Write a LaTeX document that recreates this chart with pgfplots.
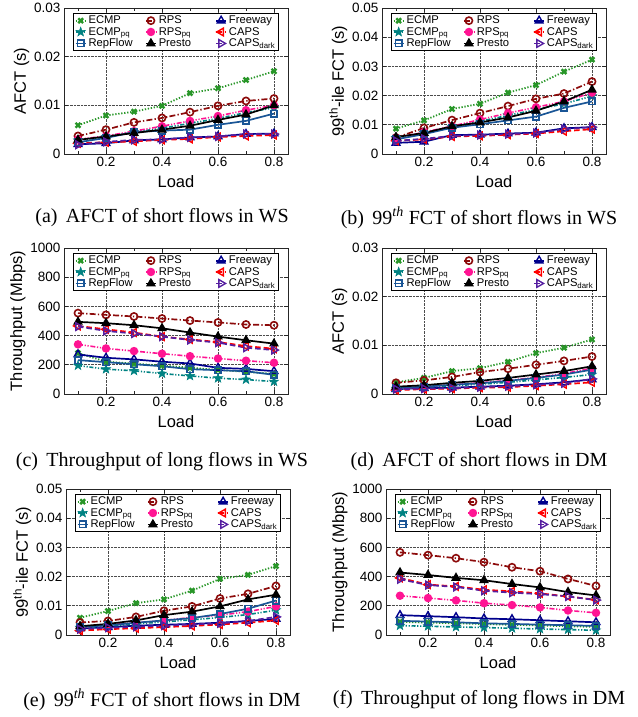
\documentclass[border=0pt]{standalone}
\usepackage{fontspec}
\setmainfont{Liberation Sans}
\newfontfamily\capfont{Liberation Serif}
\usepackage{pgfplots}
\pgfplotsset{compat=1.18}
\definecolor{cECMP}{RGB}{40,150,40}
\definecolor{cECMPpq}{RGB}{0,130,130}
\definecolor{cRep}{RGB}{25,85,150}
\definecolor{cRPS}{RGB}{140,10,10}
\definecolor{cRPSpq}{RGB}{255,20,147}
\definecolor{cFree}{RGB}{0,0,140}
\definecolor{cCAPS}{RGB}{255,0,0}
\definecolor{cDark}{RGB}{85,30,160}
\pgfdeclareplotmark{fstar}{%
 \pgfpathmoveto{\pgfpointpolar{90}{1.35\pgfplotmarksize}}%
 \pgfpathlineto{\pgfpointpolar{126}{0.55\pgfplotmarksize}}%
 \pgfpathlineto{\pgfpointpolar{162}{1.35\pgfplotmarksize}}%
 \pgfpathlineto{\pgfpointpolar{198}{0.55\pgfplotmarksize}}%
 \pgfpathlineto{\pgfpointpolar{234}{1.35\pgfplotmarksize}}%
 \pgfpathlineto{\pgfpointpolar{270}{0.55\pgfplotmarksize}}%
 \pgfpathlineto{\pgfpointpolar{306}{1.35\pgfplotmarksize}}%
 \pgfpathlineto{\pgfpointpolar{342}{0.55\pgfplotmarksize}}%
 \pgfpathlineto{\pgfpointpolar{18}{1.35\pgfplotmarksize}}%
 \pgfpathlineto{\pgfpointpolar{54}{0.55\pgfplotmarksize}}%
 \pgfpathclose\pgfusepathqfillstroke}
\pgfplotsset{
 sE/.style={cECMP, dash pattern=on 1.3pt off 1.7pt, line width=1.8pt, mark=x, mark size=3.4pt, mark options={solid, line width=2.4pt}},
 sEpq/.style={cECMPpq, dash pattern=on 4pt off 1.7pt on 1.2pt off 1.7pt on 1.2pt off 1.7pt, line width=1.6pt, mark=fstar, mark size=3.6pt, mark options={solid, fill=cECMPpq, line width=0.5pt}},
 sRep/.style={cRep, solid, line width=1.7pt, mark=square, mark size=3.2pt, mark options={solid, fill=white, line width=1.6pt}},
 sR/.style={cRPS, dash pattern=on 6pt off 2.2pt on 1.3pt off 2.2pt, line width=1.7pt, mark=o, mark size=3.6pt, mark options={solid, fill=white, line width=1.6pt}},
 sRpq/.style={cRPSpq, dash pattern=on 5pt off 1.7pt on 1.2pt off 1.7pt on 1.2pt off 1.7pt, line width=1.6pt, mark=*, mark size=3.4pt, mark options={solid, fill=cRPSpq}},
 sP/.style={black, solid, line width=1.7pt, mark=triangle*, mark size=4pt, mark options={solid, fill=black}},
 sF/.style={cFree, solid, line width=1.7pt, mark=triangle, mark size=4.4pt, mark options={solid, fill=white, line width=1.4pt}},
 sC/.style={cCAPS, dash pattern=on 5.5pt off 3pt, line width=1.7pt, mark=triangle, mark size=4.4pt, mark options={solid, fill=white, rotate=90, line width=1.4pt}},
 sD/.style={cDark, dash pattern=on 5.5pt off 3pt, line width=1.7pt, mark=triangle, mark size=4.4pt, mark options={solid, fill=white, rotate=-90, line width=1.4pt}},
 panel/.style={
   scale only axis, width=224pt, height=146pt,
   xmin=0.05, xmax=0.85,
   xtick={0.2,0.4,0.6,0.8}, xticklabels={0.2,0.4,0.6,0.8},
   minor xtick={0.1,0.3,0.5,0.7},
   scaled y ticks=false, scaled x ticks=false,
   tick align=inside, tick pos=both,
   major tick length=4pt, minor tick length=3pt,
   grid=major, major grid style={black!70, densely dotted, line width=0.6pt},
   axis line style={line width=0.9pt, black!85},
   every tick/.style={black!85, line width=0.7pt},
   tick label style={font=\fontsize{13.5}{16}\selectfont},
   label style={font=\fontsize{16.5}{19}\selectfont},
   xlabel={Load},
   xlabel style={yshift=-2pt},
   ylabel style={yshift=-2pt},
   legend columns=3,
   legend cell align=left,
   legend style={at={(0.5,0.965)}, anchor=north, draw=black, line width=0.8pt,
     font=\fontsize{11.2}{11.5}\selectfont, inner xsep=1pt, inner ysep=0.5pt,
     row sep=-2pt, column sep=0pt,
     /tikz/every even column/.append style={column sep=1.5pt}},
   legend image code/.code={\draw[mark repeat=2,mark phase=2,##1] plot coordinates {(-5pt,0pt)(0pt,0pt)(5pt,0pt)};},
 }
}
\newcommand{\capf}{\capfont\fontsize{20}{22}\selectfont}
\begin{document}
\begin{tikzpicture}
\path[use as bounding box] (0,0) rectangle (637pt,717pt);
% (a)
\begin{axis}[panel, at={(64pt,563pt)}, anchor=south west,
  ymin=0, ymax=0.03, ytick={0,0.01,0.02,0.03}, yticklabels={0,0.01,0.02,0.03},
  ylabel={AFCT (s)}]
\addplot[sE] coordinates {(0.1,0.0059)(0.2,0.0079)(0.3,0.0087)(0.4,0.0099)(0.5,0.0125)(0.6,0.0135)(0.7,0.0152)(0.8,0.0170)};
\addlegendentry{\makebox[53pt][l]{ECMP}}
\addplot[sR] coordinates {(0.1,0.0037)(0.2,0.0050)(0.3,0.0065)(0.4,0.0074)(0.5,0.0086)(0.6,0.0099)(0.7,0.0109)(0.8,0.0114)};
\addlegendentry{\makebox[53pt][l]{RPS}}
\addplot[sF] coordinates {(0.1,0.0020)(0.2,0.0022)(0.3,0.0028)(0.4,0.0030)(0.5,0.0034)(0.6,0.0036)(0.7,0.0041)(0.8,0.0042)};
\addlegendentry{Freeway}
\addplot[sEpq] coordinates {(0.1,0.0028)(0.2,0.0035)(0.3,0.0045)(0.4,0.0053)(0.5,0.0063)(0.6,0.0073)(0.7,0.0085)(0.8,0.0095)};
\addlegendentry{ECMP\textsubscript{pq}}
\addplot[sRpq] coordinates {(0.1,0.0030)(0.2,0.0037)(0.3,0.0047)(0.4,0.0057)(0.5,0.0068)(0.6,0.0078)(0.7,0.0090)(0.8,0.0100)};
\addlegendentry{RPS\textsubscript{pq}}
\addplot[sC] coordinates {(0.1,0.0022)(0.2,0.0024)(0.3,0.0026)(0.4,0.0029)(0.5,0.0031)(0.6,0.0035)(0.7,0.0037)(0.8,0.0039)};
\addlegendentry{CAPS}
\addplot[sRep] coordinates {(0.1,0.0024)(0.2,0.0033)(0.3,0.0045)(0.4,0.0048)(0.5,0.0050)(0.6,0.0060)(0.7,0.0068)(0.8,0.0083)};
\addlegendentry{RepFlow}
\addplot[sP] coordinates {(0.1,0.0029)(0.2,0.0036)(0.3,0.0043)(0.4,0.0050)(0.5,0.0058)(0.6,0.0070)(0.7,0.0081)(0.8,0.0100)};
\addlegendentry{Presto}
\addplot[sD] coordinates {(0.1,0.0019)(0.2,0.0025)(0.3,0.0029)(0.4,0.0030)(0.5,0.0034)(0.6,0.0036)(0.7,0.0041)(0.8,0.0041)};
\addlegendentry{CAPS\textsubscript{dark}}
\end{axis}
\node[font=\capf] at (162pt,499pt) {(a)\, AFCT of short flows in WS};
% (b)
\begin{axis}[panel, at={(382pt,563pt)}, anchor=south west,
  ymin=0, ymax=0.05, ytick={0,0.01,0.02,0.03,0.04,0.05}, yticklabels={0,0.01,0.02,0.03,0.04,0.05},
  ylabel={99\textsuperscript{th}-ile FCT (s)}]
\addplot[sE] coordinates {(0.1,0.0087)(0.2,0.0115)(0.3,0.0154)(0.4,0.0172)(0.5,0.0210)(0.6,0.0236)(0.7,0.0282)(0.8,0.0323)};
\addlegendentry{\makebox[53pt][l]{ECMP}}
\addplot[sR] coordinates {(0.1,0.0056)(0.2,0.0089)(0.3,0.0116)(0.4,0.0140)(0.5,0.0164)(0.6,0.0189)(0.7,0.0207)(0.8,0.0248)};
\addlegendentry{\makebox[53pt][l]{RPS}}
\addplot[sF] coordinates {(0.1,0.0038)(0.2,0.0042)(0.3,0.0065)(0.4,0.0066)(0.5,0.0070)(0.6,0.0073)(0.7,0.0088)(0.8,0.0092)};
\addlegendentry{Freeway}
\addplot[sEpq] coordinates {(0.1,0.0055)(0.2,0.0072)(0.3,0.0092)(0.4,0.0112)(0.5,0.0132)(0.6,0.0152)(0.7,0.0172)(0.8,0.0198)};
\addlegendentry{ECMP\textsubscript{pq}}
\addplot[sRpq] coordinates {(0.1,0.0055)(0.2,0.0075)(0.3,0.0095)(0.4,0.0118)(0.5,0.0140)(0.6,0.0160)(0.7,0.0180)(0.8,0.0210)};
\addlegendentry{RPS\textsubscript{pq}}
\addplot[sC] coordinates {(0.1,0.0045)(0.2,0.0050)(0.3,0.0060)(0.4,0.0062)(0.5,0.0066)(0.6,0.0070)(0.7,0.0078)(0.8,0.0085)};
\addlegendentry{CAPS}
\addplot[sRep] coordinates {(0.1,0.0050)(0.2,0.0068)(0.3,0.0090)(0.4,0.0102)(0.5,0.0115)(0.6,0.0128)(0.7,0.0158)(0.8,0.0180)};
\addlegendentry{RepFlow}
\addplot[sP] coordinates {(0.1,0.0058)(0.2,0.0072)(0.3,0.0095)(0.4,0.0108)(0.5,0.0125)(0.6,0.0148)(0.7,0.0180)(0.8,0.0220)};
\addlegendentry{Presto}
\addplot[sD] coordinates {(0.1,0.0045)(0.2,0.0052)(0.3,0.0062)(0.4,0.0065)(0.5,0.0068)(0.6,0.0072)(0.7,0.0085)(0.8,0.0092)};
\addlegendentry{CAPS\textsubscript{dark}}
\end{axis}
\node[font=\capf] at (479pt,499pt) {(b)\, 99\textsuperscript{\textit{th}} FCT of short flows in WS};
% (c)
\begin{axis}[panel, at={(64pt,323pt)}, anchor=south west,
  ymin=0, ymax=1000, ytick={0,200,400,600,800,1000}, yticklabels={0,200,400,600,800,1000},
  ylabel={Throughput (Mbps)}]
\addplot[sE] coordinates {(0.1,280)(0.2,222)(0.3,207)(0.4,195)(0.5,180)(0.6,165)(0.7,152)(0.8,138)};
\addlegendentry{\makebox[53pt][l]{ECMP}}
\addplot[sR] coordinates {(0.1,554)(0.2,542)(0.3,531)(0.4,517)(0.5,503)(0.6,490)(0.7,476)(0.8,471)};
\addlegendentry{\makebox[53pt][l]{RPS}}
\addplot[sF] coordinates {(0.1,271)(0.2,248)(0.3,237)(0.4,221)(0.5,209)(0.6,179)(0.7,172)(0.8,156)};
\addlegendentry{Freeway}
\addplot[sEpq] coordinates {(0.1,195)(0.2,170)(0.3,159)(0.4,140)(0.5,124)(0.6,108)(0.7,99)(0.8,85)};
\addlegendentry{ECMP\textsubscript{pq}}
\addplot[sRpq] coordinates {(0.1,340)(0.2,312)(0.3,294)(0.4,276)(0.5,259)(0.6,243)(0.7,228)(0.8,214)};
\addlegendentry{RPS\textsubscript{pq}}
\addplot[sC] coordinates {(0.1,466)(0.2,443)(0.3,421)(0.4,393)(0.5,374)(0.6,356)(0.7,328)(0.8,310)};
\addlegendentry{CAPS}
\addplot[sRep] coordinates {(0.1,232)(0.2,218)(0.3,204)(0.4,190)(0.5,170)(0.6,163)(0.7,156)(0.8,131)};
\addlegendentry{RepFlow}
\addplot[sP] coordinates {(0.1,494)(0.2,485)(0.3,471)(0.4,450)(0.5,421)(0.6,393)(0.7,368)(0.8,345)};
\addlegendentry{Presto}
\addplot[sD] coordinates {(0.1,462)(0.2,432)(0.3,414)(0.4,393)(0.5,370)(0.6,352)(0.7,317)(0.8,301)};
\addlegendentry{CAPS\textsubscript{dark}}
\end{axis}
\node[font=\capf] at (162pt,255pt) {(c)\, Throughput of long flows in WS};
% (d)
\begin{axis}[panel, at={(382pt,323pt)}, anchor=south west,
  ymin=0, ymax=0.03, ytick={0,0.01,0.02,0.03}, yticklabels={0,0.01,0.02,0.03},
  ylabel={AFCT (s)}]
\addplot[sE] coordinates {(0.1,0.0024)(0.2,0.0033)(0.3,0.0047)(0.4,0.0053)(0.5,0.0066)(0.6,0.0084)(0.7,0.0095)(0.8,0.0112)};
\addlegendentry{\makebox[53pt][l]{ECMP}}
\addplot[sR] coordinates {(0.1,0.0023)(0.2,0.0028)(0.3,0.0035)(0.4,0.0045)(0.5,0.0052)(0.6,0.0060)(0.7,0.0068)(0.8,0.0077)};
\addlegendentry{\makebox[53pt][l]{RPS}}
\addplot[sF] coordinates {(0.1,0.0010)(0.2,0.0012)(0.3,0.0013)(0.4,0.0015)(0.5,0.0017)(0.6,0.0020)(0.7,0.0024)(0.8,0.0030)};
\addlegendentry{Freeway}
\addplot[sEpq] coordinates {(0.1,0.0011)(0.2,0.0014)(0.3,0.0017)(0.4,0.0020)(0.5,0.0024)(0.6,0.0029)(0.7,0.0034)(0.8,0.0040)};
\addlegendentry{ECMP\textsubscript{pq}}
\addplot[sRpq] coordinates {(0.1,0.0011)(0.2,0.0015)(0.3,0.0019)(0.4,0.0023)(0.5,0.0028)(0.6,0.0034)(0.7,0.0042)(0.8,0.0053)};
\addlegendentry{RPS\textsubscript{pq}}
\addplot[sC] coordinates {(0.1,0.0008)(0.2,0.0010)(0.3,0.0011)(0.4,0.0013)(0.5,0.0014)(0.6,0.0017)(0.7,0.0020)(0.8,0.0024)};
\addlegendentry{CAPS}
\addplot[sRep] coordinates {(0.1,0.0012)(0.2,0.0015)(0.3,0.0019)(0.4,0.0022)(0.5,0.0027)(0.6,0.0033)(0.7,0.0040)(0.8,0.0050)};
\addlegendentry{RepFlow}
\addplot[sP] coordinates {(0.1,0.0015)(0.2,0.0018)(0.3,0.0023)(0.4,0.0027)(0.5,0.0033)(0.6,0.0040)(0.7,0.0047)(0.8,0.0057)};
\addlegendentry{Presto}
\addplot[sD] coordinates {(0.1,0.0010)(0.2,0.0011)(0.3,0.0012)(0.4,0.0014)(0.5,0.0016)(0.6,0.0019)(0.7,0.0022)(0.8,0.0031)};
\addlegendentry{CAPS\textsubscript{dark}}
\end{axis}
\node[font=\capf] at (479pt,255pt) {(d)\, AFCT of short flows in DM};
% (e)
\begin{axis}[panel, at={(66pt,82pt)}, anchor=south west,
  ymin=0, ymax=0.05, ytick={0,0.01,0.02,0.03,0.04,0.05}, yticklabels={0,0.01,0.02,0.03,0.04,0.05},
  ylabel={99\textsuperscript{th}-ile FCT (s)}]
\addplot[sE] coordinates {(0.1,0.0059)(0.2,0.0082)(0.3,0.0109)(0.4,0.0122)(0.5,0.0152)(0.6,0.0192)(0.7,0.0206)(0.8,0.0236)};
\addlegendentry{\makebox[53pt][l]{ECMP}}
\addplot[sR] coordinates {(0.1,0.0043)(0.2,0.0048)(0.3,0.0062)(0.4,0.0083)(0.5,0.0098)(0.6,0.0125)(0.7,0.0141)(0.8,0.0168)};
\addlegendentry{\makebox[53pt][l]{RPS}}
\addplot[sF] coordinates {(0.1,0.0022)(0.2,0.0027)(0.3,0.0032)(0.4,0.0035)(0.5,0.0038)(0.6,0.0042)(0.7,0.0048)(0.8,0.0055)};
\addlegendentry{Freeway}
\addplot[sEpq] coordinates {(0.1,0.0025)(0.2,0.0030)(0.3,0.0038)(0.4,0.0045)(0.5,0.0052)(0.6,0.0060)(0.7,0.0070)(0.8,0.0085)};
\addlegendentry{ECMP\textsubscript{pq}}
\addplot[sRpq] coordinates {(0.1,0.0025)(0.2,0.0035)(0.3,0.0042)(0.4,0.0050)(0.5,0.0060)(0.6,0.0068)(0.7,0.0080)(0.8,0.0098)};
\addlegendentry{RPS\textsubscript{pq}}
\addplot[sC] coordinates {(0.1,0.0015)(0.2,0.0020)(0.3,0.0023)(0.4,0.0027)(0.5,0.0031)(0.6,0.0036)(0.7,0.0042)(0.8,0.0050)};
\addlegendentry{CAPS}
\addplot[sRep] coordinates {(0.1,0.0028)(0.2,0.0033)(0.3,0.0042)(0.4,0.0050)(0.5,0.0058)(0.6,0.0072)(0.7,0.0090)(0.8,0.0118)};
\addlegendentry{RepFlow}
\addplot[sP] coordinates {(0.1,0.0030)(0.2,0.0038)(0.3,0.0050)(0.4,0.0068)(0.5,0.0080)(0.6,0.0098)(0.7,0.0122)(0.8,0.0138)};
\addlegendentry{Presto}
\addplot[sD] coordinates {(0.1,0.0020)(0.2,0.0025)(0.3,0.0028)(0.4,0.0032)(0.5,0.0036)(0.6,0.0040)(0.7,0.0048)(0.8,0.0062)};
\addlegendentry{CAPS\textsubscript{dark}}
\end{axis}
\node[font=\capf] at (162pt,17pt) {(e)\, 99\textsuperscript{\textit{th}} FCT of short flows in DM};
% (f)
\begin{axis}[panel, at={(386pt,82pt)}, anchor=south west,
  ymin=0, ymax=1000, ytick={0,200,400,600,800,1000}, yticklabels={0,200,400,600,800,1000},
  ylabel={Throughput (Mbps)}]
\addplot[sE] coordinates {(0.1,90)(0.2,85)(0.3,80)(0.4,75)(0.5,70)(0.6,65)(0.7,60)(0.8,55)};
\addlegendentry{\makebox[53pt][l]{ECMP}}
\addplot[sR] coordinates {(0.1,566)(0.2,547)(0.3,526)(0.4,499)(0.5,464)(0.6,437)(0.7,384)(0.8,336)};
\addlegendentry{\makebox[53pt][l]{RPS}}
\addplot[sF] coordinates {(0.1,136)(0.2,129)(0.3,122)(0.4,113)(0.5,108)(0.6,101)(0.7,94)(0.8,87)};
\addlegendentry{Freeway}
\addplot[sEpq] coordinates {(0.1,64)(0.2,60)(0.3,55)(0.4,51)(0.5,46)(0.6,41)(0.7,37)(0.8,32)};
\addlegendentry{ECMP\textsubscript{pq}}
\addplot[sRpq] coordinates {(0.1,269)(0.2,253)(0.3,237)(0.4,218)(0.5,205)(0.6,189)(0.7,168)(0.8,152)};
\addlegendentry{RPS\textsubscript{pq}}
\addplot[sC] coordinates {(0.1,391)(0.2,345)(0.3,333)(0.4,310)(0.5,299)(0.6,285)(0.7,264)(0.8,241)};
\addlegendentry{CAPS}
\addplot[sRep] coordinates {(0.1,97)(0.2,92)(0.3,87)(0.4,80)(0.5,76)(0.6,71)(0.7,67)(0.8,62)};
\addlegendentry{RepFlow}
\addplot[sP] coordinates {(0.1,428)(0.2,411)(0.3,391)(0.4,375)(0.5,349)(0.6,326)(0.7,294)(0.8,271)};
\addlegendentry{Presto}
\addplot[sD] coordinates {(0.1,382)(0.2,342)(0.3,329)(0.4,303)(0.5,290)(0.6,280)(0.7,264)(0.8,239)};
\addlegendentry{CAPS\textsubscript{dark}}
\end{axis}
\node[font=\capf] at (479pt,17pt) {(f)\, Throughput of long flows in DM};
\end{tikzpicture}
\end{document}
